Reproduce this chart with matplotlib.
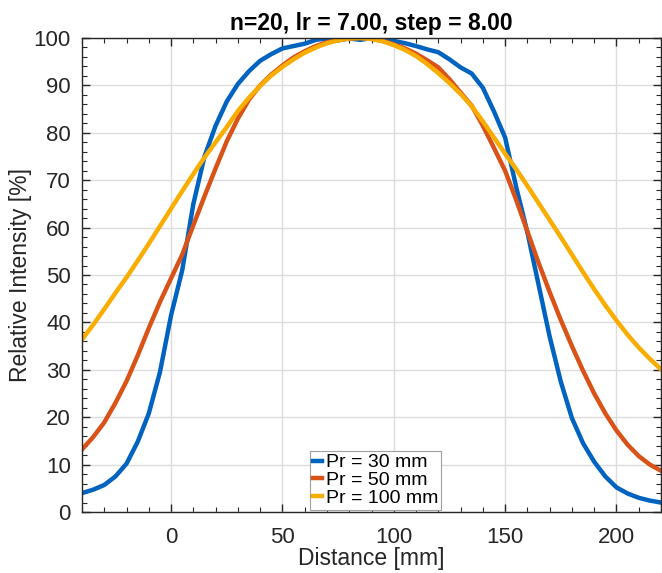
import numpy as np
import matplotlib
matplotlib.use('Agg')
import matplotlib.pyplot as plt
from matplotlib.ticker import MultipleLocator

plt.rcParams['font.family'] = ['Liberation Sans', 'DejaVu Sans']

# distance samples (mm)
distance = [-40, -35, -30, -25, -20, -15, -10, -5, 0, 5, 10, 15, 20, 25, 30, 35,
            40, 45, 50, 55, 60, 65, 70, 75, 80, 85, 90, 95, 100, 105, 110, 115,
            120, 125, 130, 135, 140, 145, 150, 155, 160, 165, 170, 175, 180, 185,
            190, 195, 200, 205, 210, 215, 220]

# Pr = 30 mm
pr30 = [4.0, 4.7, 5.7, 7.5, 10.2, 14.8, 20.8, 29.5, 41.5, 51.0, 65.0, 75.0,
        81.5, 86.6, 90.3, 93.0, 95.2, 96.6, 97.8, 98.3, 98.8, 99.6, 99.9, 99.5,
        99.9, 99.6, 100.0, 99.8, 99.4, 98.9, 98.3, 97.6, 97.0, 95.5, 93.8, 92.5,
        89.5, 84.5, 79.0, 68.5, 59.0, 48.0, 37.0, 27.5, 19.8, 14.5, 10.6, 7.5,
        5.2, 3.9, 3.0, 2.4, 2.0]

# Pr = 50 mm
pr50 = [13.2, 15.8, 18.9, 23.0, 27.6, 33.0, 38.8, 44.3, 49.3, 54.3, 60.5, 66.6,
        72.5, 78.2, 83.0, 87.0, 90.0, 92.3, 94.2, 95.9, 97.2, 98.3, 99.1, 99.6,
        99.9, 100.0, 99.8, 99.4, 98.7, 97.8, 96.7, 95.3, 93.8, 91.3, 88.5, 85.7,
        81.5, 76.8, 72.0, 65.8, 59.2, 52.6, 46.4, 40.5, 35.0, 29.8, 25.0, 20.8,
        17.2, 14.2, 11.8, 10.0, 8.7]

# Pr = 100 mm
pr100 = [36.4, 39.5, 42.8, 46.2, 49.5, 53.0, 56.6, 60.3, 64.0, 67.7, 71.3, 74.8,
         78.0, 81.2, 84.6, 87.4, 89.9, 92.1, 93.9, 95.5, 96.9, 98.0, 98.9, 99.5,
         99.9, 100.0, 99.8, 99.3, 98.5, 97.5, 96.2, 94.5, 92.6, 90.5, 88.2, 85.6,
         82.4, 79.0, 75.6, 72.3, 68.8, 65.2, 61.6, 58.0, 54.3, 50.6, 47.0, 43.6,
         40.4, 37.4, 34.7, 32.3, 30.1]

labels = ['Pr = 30 mm', 'Pr = 50 mm', 'Pr = 100 mm']
colors = ['#0063BF', '#D95319', '#F9AD00']

fig = plt.figure(figsize=(6.62, 5.73), dpi=100)
ax = fig.add_axes([82 / 662, 61 / 573, 579 / 662, 474 / 573])

for ys, lab, c in zip([pr30, pr50, pr100], labels, colors):
    ax.plot(distance, ys, color=c, lw=3.2, label=lab)

ax.set_xlim(-40, 220)
ax.set_ylim(0, 100)
ax.xaxis.set_major_locator(MultipleLocator(50))
ax.xaxis.set_minor_locator(MultipleLocator(10))
ax.yaxis.set_major_locator(MultipleLocator(10))
ax.yaxis.set_minor_locator(MultipleLocator(2))
ax.tick_params(which='both', direction='in', top=True, right=True,
               colors='#262626', labelsize=16)
ax.tick_params(which='major', length=6, width=1.0)
ax.tick_params(which='minor', length=3.5, width=0.8)
ax.tick_params(axis='y', pad=8)
ax.tick_params(axis='x', pad=11)
ax.grid(True, which='major', color='#DCDCDC', lw=1.0)
ax.set_axisbelow(True)
for s in ax.spines.values():
    s.set_color('#262626')
    s.set_linewidth(1.0)

ax.set_xlabel('Distance [mm]', fontsize=16.5, color='#262626', labelpad=-1)
ax.set_ylabel('Relative Intensity [%]', fontsize=16.5, color='#262626', labelpad=1)
ax.set_title('n=20, lr = 7.00, step = 8.00', fontsize=16.5, fontweight='bold',
             pad=6)

leg = ax.legend(loc='lower center', bbox_to_anchor=(0.507, 0.005), fontsize=14,
                handlelength=0.5, handletextpad=0.2, borderpad=0.15,
                labelspacing=0.0, borderaxespad=0, fancybox=False,
                framealpha=1)
leg.get_frame().set_edgecolor('#A0A0A0')
leg.get_frame().set_linewidth(0.8)

fig.savefig('out.png', dpi=100)
